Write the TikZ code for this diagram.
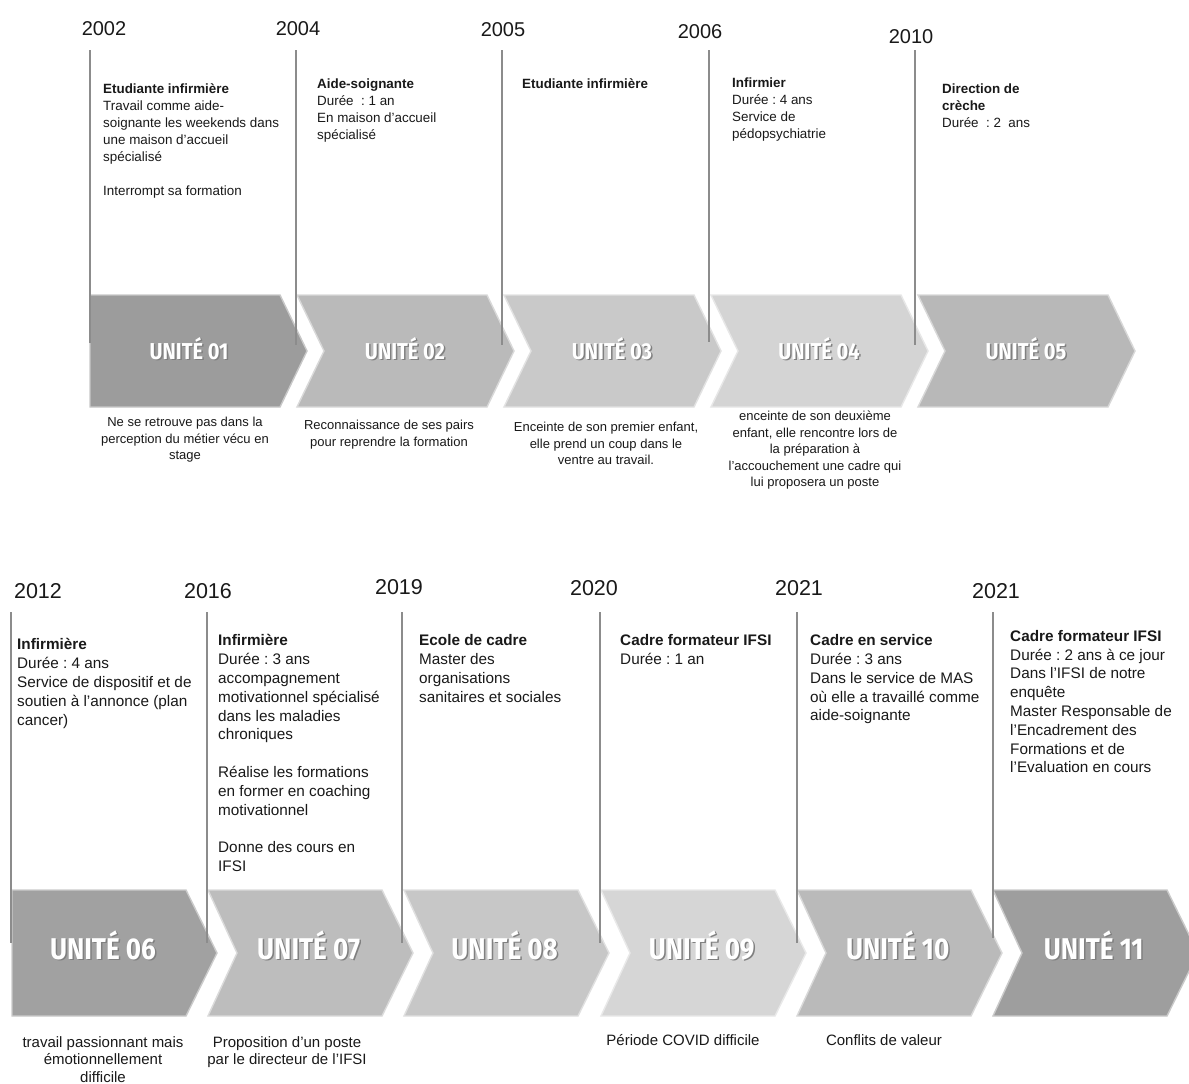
\documentclass[tikz,border=0pt]{standalone}
\usepackage{fontspec}
\usepackage{xcolor}
\usepackage{tikz}
\setmainfont{Liberation Sans}
\newfontfamily\unitfont[FakeStretch=0.87]{Fira Sans}
\frenchspacing

\definecolor{gris01}{gray}{0.61}
\definecolor{gris02}{gray}{0.73}
\definecolor{gris03}{gray}{0.79}
\definecolor{gris04}{gray}{0.83}
\definecolor{gris05}{gray}{0.72}
\definecolor{gris06}{gray}{0.63}
\definecolor{gris07}{gray}{0.74}
\definecolor{gris08}{gray}{0.78}
\definecolor{gris09}{gray}{0.84}
\definecolor{gris10}{gray}{0.73}
\definecolor{gris11}{gray}{0.62}
\definecolor{trait}{gray}{0.55}

% texte blanc avec ombre grise
\newcommand{\ombretexte}[1]{\rlap{\kern1.5pt\raisebox{-1.5pt}{\textcolor{black!50}{#1}}}#1}
\newcommand{\unitdrop}{8}
% #1 nom, #2 gauche, #3 haut, #4 largeur, #5 hauteur, #6 pointe, #7 encoche, #8 couleur, #9 texte
\newcommand{\chevron}[9]{%
  \filldraw[fill=#8, draw=#8!55!white, line width=1.4pt, line join=miter]
    (#2,#3) -- ++(#4,0) -- ++(#6,#5/2) -- ++(-#6,#5/2) -- ++(-#4,0) -- ++(#7,-#5/2) -- cycle;
  \node[unitlbl] (#1) at ({#2+(#7+#4)/2+4-#7/6},{#3+#5/2+\unitdrop}) {\ombretexte{#9}};
}

\tikzset{
  unitlbl/.style={anchor=base, inner sep=0, text=white, font=\unitfont\bfseries\fontsize{23}{23}\selectfont},
  repere/.style={draw=trait, line width=1.2pt},
  annee/.style={inner sep=0, text=black!90, font=\fontsize{20}{20}\selectfont},
  bloc/.style={anchor=north west, inner sep=0, align=left, text=black!90, font=\fontsize{13.4}{17}\selectfont},
  legende/.style={anchor=north, inner sep=0, align=center, text=black!90, font=\fontsize{13}{16.5}\selectfont}
}

\begin{document}
\begin{tikzpicture}[x=1pt, y=-1pt]
        \fill[white] (0,0) rectangle (1189,1084);
        \useasboundingbox (0,0) rectangle (1189,1084);

        % Ligne du haut : chevrons
        \chevron{u01}{90}{295}{190}{112}{27}{0}{gris01}{UNITÉ 01}
        \chevron{u02}{297}{295}{190}{112}{27}{27}{gris02}{UNITÉ 02}
        \chevron{u03}{504}{295}{190}{112}{27}{27}{gris03}{UNITÉ 03}
        \chevron{u04}{711}{295}{190}{112}{27}{27}{gris04}{UNITÉ 04}
        \chevron{u05}{918}{295}{190}{112}{27}{27}{gris05}{UNITÉ 05}

        % Reperes
        \draw[repere] (90,50) -- (90,343);
        \draw[repere] (296,50) -- (296,345);
        \draw[repere] (502,50) -- (502,345);
        \draw[repere] (709,50) -- (709,342);
        \draw[repere] (915,50) -- (915,345);

        % Annees
        \node[annee] (a2002) at (104,29) {2002};
        \node[annee] (a2004) at (298,29) {2004};
        \node[annee] (a2005) at (503,30) {2005};
        \node[annee] (a2006) at (700,32) {2006};
        \node[annee] (a2010) at (911,37) {2010};

        % Postes
        \node[bloc] (p01) at (103,83) {\textbf{Etudiante infirmière}\\Travail comme aide-\\soignante les weekends dans\\une maison d’accueil\\spécialisé\\[17pt]Interrompt sa formation};
        \node[bloc] (p02) at (317,78.5) {\textbf{Aide-soignante}\\Durée~ : 1 an\\En maison d’accueil\\spécialisé};
        \node[bloc] (p03) at (522,78.5) {\textbf{Etudiante infirmière}};
        \node[bloc] (p04) at (732,78) {\textbf{Infirmier}\\Durée : 4 ans\\Service de\\pédopsychiatrie};
        \node[bloc] (p05) at (942,83.5) {\textbf{Direction de}\\\textbf{crèche}\\Durée~ : 2~ ans};

        % Legendes
        \node[legende] (l01) at (185,417) {Ne se retrouve pas dans la\\perception du métier vécu en\\stage};
        \node[legende] (l02) at (389,420) {Reconnaissance de ses pairs\\pour reprendre la formation};
        \node[legende] (l03) at (606,422) {Enceinte de son premier enfant,\\elle prend un coup dans le\\ventre au travail.};
        \node[legende] (l04) at (815,411) {enceinte de son deuxième\\enfant, elle rencontre lors de\\la préparation à\\l’accouchement une cadre qui\\lui proposera un poste};

        \begin{scope}[unitlbl/.append style={font=\unitfont\bfseries\fontsize{30}{30}\selectfont},
          annee/.append style={font=\fontsize{21.5}{21.5}\selectfont},
          bloc/.append style={font=\fontsize{15.3}{18.8}\selectfont},
          legende/.append style={font=\fontsize{15}{17.5}\selectfont}]
        \renewcommand{\unitdrop}{6}

        % Ligne du bas : chevrons
        \chevron{u06}{12}{890}{174}{126}{31}{0}{gris06}{UNITÉ 06}
        \chevron{u07}{208}{890}{174}{126}{31}{29}{gris07}{UNITÉ 07}
        \chevron{u08}{404}{890}{174}{126}{31}{29}{gris08}{UNITÉ 08}
        \chevron{u09}{601}{890}{174}{126}{31}{29}{gris09}{UNITÉ 09}
        \chevron{u10}{797}{890}{174}{126}{31}{29}{gris10}{UNITÉ 10}
        \chevron{u11}{993}{890}{174}{126}{31}{29}{gris11}{UNITÉ 11}

        % Reperes
        \draw[repere] (11,612) -- (11,943);
        \draw[repere] (207,612) -- (207,943);
        \draw[repere] (402,612) -- (402,943);
        \draw[repere] (600,612) -- (600,943);
        \draw[repere] (797,612) -- (797,943);
        \draw[repere] (993,612) -- (993,938);

        % Annees
        \node[annee] (a2012) at (38,591) {2012};
        \node[annee] (a2016) at (208,591) {2016};
        \node[annee] (a2019) at (399,587) {2019};
        \node[annee] (a2020) at (594,588) {2020};
        \node[annee] (a2021) at (799,588) {2021};
        \node[annee] (a2021b) at (996,591) {2021};

        % Postes
        \node[bloc] (p06) at (17,638.5) {\textbf{Infirmière}\\Durée : 4 ans\\Service de dispositif et de\\soutien à l’annonce (plan\\cancer)};
        \node[bloc] (p07) at (218,634.5) {\textbf{Infirmière}\\Durée : 3 ans\\accompagnement\\motivationnel spécialisé\\dans les maladies\\chroniques\\[18.8pt]Réalise les formations\\en former en coaching\\motivationnel\\[18.8pt]Donne des cours en\\IFSI};
        \node[bloc] (p08) at (419,634.5) {\textbf{Ecole de cadre}\\Master des\\organisations\\sanitaires et sociales};
        \node[bloc] (p09) at (620,634.5) {\textbf{Cadre formateur IFSI}\\Durée : 1 an};
        \node[bloc] (p10) at (810,634.5) {\textbf{Cadre en service}\\Durée : 3 ans\\Dans le service de MAS\\où elle a travaillé comme\\aide-soignante};
        \node[bloc] (p11) at (1010,630) {\textbf{Cadre formateur IFSI}\\Durée : 2 ans à ce jour\\Dans l’IFSI de notre\\enquête\\Master Responsable de\\l’Encadrement des\\Formations et de\\l’Evaluation en cours};

        % Legendes
        \node[legende] (l06) at (103,1036) {travail passionnant mais\\émotionnellement\\difficile};
        \node[legende] (l07) at (287,1036) {Proposition d’un poste\\par le directeur de l’IFSI};
        \node[legende] (l09) at (683,1034) {Période COVID difficile};
        \node[legende] (l10) at (884,1034) {Conflits de valeur};
        \end{scope}
    \end{tikzpicture}
\end{document}
